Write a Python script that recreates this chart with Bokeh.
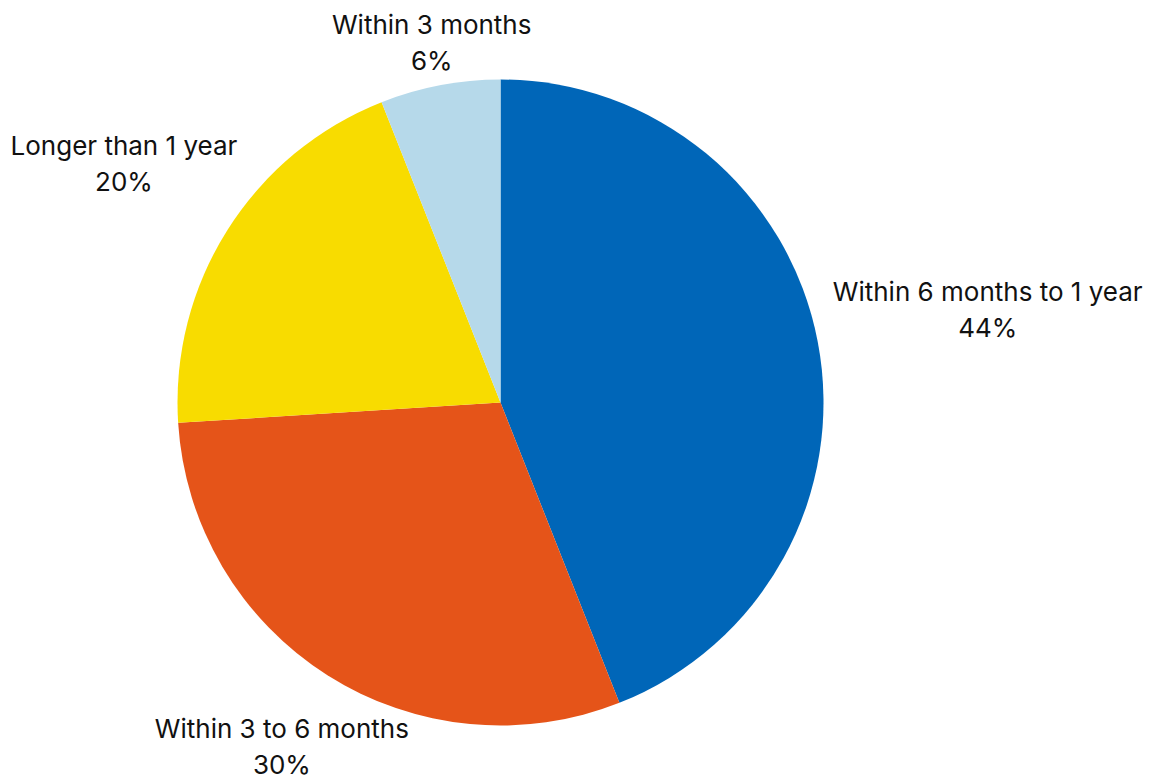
import math
from bokeh.plotting import figure
from bokeh.models import Range1d, ColumnDataSource
from bokeh.core.properties import value
from bokeh.embed import file_html
from bokeh.resources import INLINE

# Data
categories = ["Within 6 months to 1 year", "Within 3 to 6 months", "Longer than 1 year", "Within 3 months"]
shares = [44, 30, 20, 6]
colors = ["#0066B8", "#E55419", "#F8DC00", "#B6D9EA"]

# Layout (pixel coordinates of the picture)
W, H = 1153, 781
cx, cy, R = 500, -402, 323
label_radius = [496, 408, 446, 367]
FONT = "Inter"

p = figure(width=W, height=H, output_backend="svg", toolbar_location=None,
           x_range=Range1d(0, W), y_range=Range1d(-H, 0),
           min_border=0)
p.axis.visible = False
p.grid.visible = False
p.outline_line_color = None
p.background_fill_color = "white"
p.border_fill_color = "white"

total = sum(shares)
starts, ends, mids = [], [], []
acc = 0.0
for v in shares:
    a0 = math.pi / 2 - 2 * math.pi * acc / total
    a1 = math.pi / 2 - 2 * math.pi * (acc + v) / total
    starts.append(a0)
    ends.append(a1)
    mids.append((a0 + a1) / 2)
    acc += v

src = ColumnDataSource(dict(start=starts, end=ends, color=colors))
p.wedge(x=cx, y=cy, radius=R, start_angle="start", end_angle="end",
        direction="clock", fill_color="color", line_color=None, source=src)

lx = [cx + r * math.cos(m) for r, m in zip(label_radius, mids)]
ly = [cy + r * math.sin(m) for r, m in zip(label_radius, mids)]
lsrc = ColumnDataSource(dict(
    x=lx, y1=[y + 18 for y in ly], y2=[y - 18 for y in ly],
    name=categories, pct=[f"{v}%" for v in shares]))
for ycol, tcol in (("y1", "name"), ("y2", "pct")):
    p.text(x="x", y=ycol, text=tcol, source=lsrc, text_align="center",
           text_baseline="middle", text_font=value(FONT),
           text_font_size="26px", text_color="#111111")

open("out.html", "w").write(file_html(p, INLINE))
